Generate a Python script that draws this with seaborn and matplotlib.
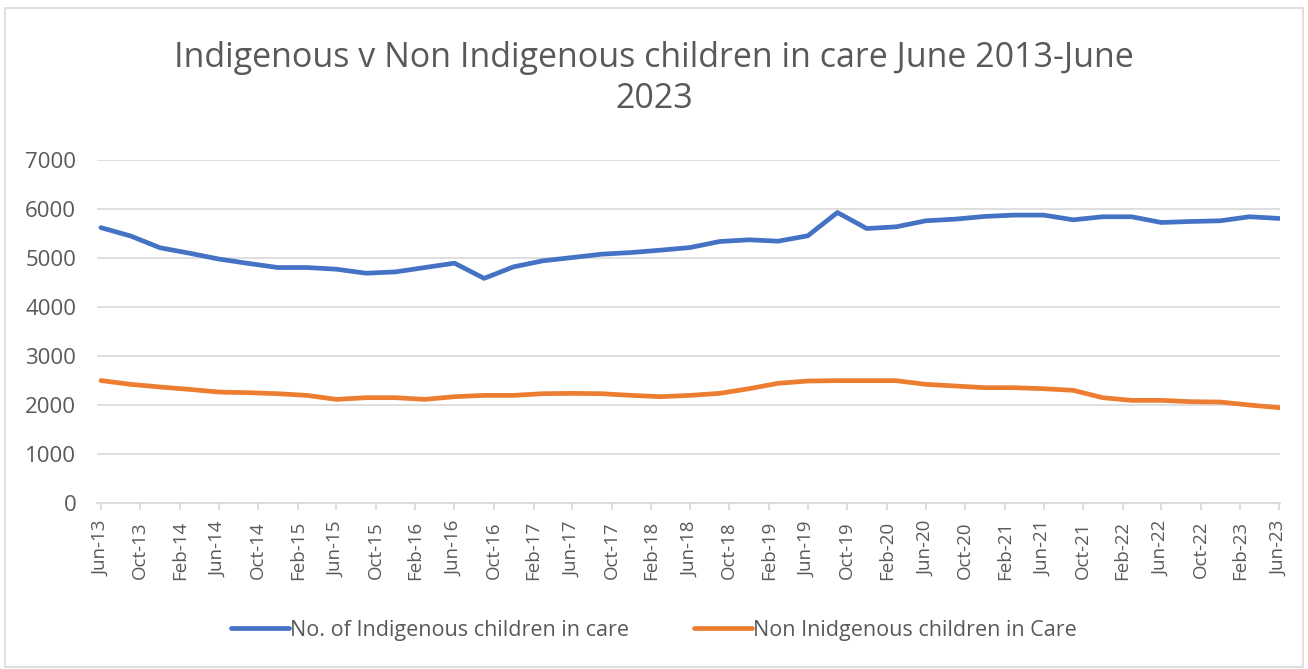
import matplotlib
matplotlib.use("Agg")
import matplotlib.pyplot as plt
import pandas as pd
import seaborn as sns

# Quarterly counts, June 2013 to June 2023
quarters = pd.date_range("2013-06-01", "2023-06-01", freq="3MS")

indigenous = [
    5620, 5450, 5210, 5100, 4980, 4890, 4806, 4806, 4772, 4690,
    4717, 4806, 4895, 4585, 4820, 4942, 5010, 5079, 5112, 5160,
    5214, 5337, 5372, 5344, 5453, 5929, 5602, 5637, 5760, 5794,
    5849, 5876, 5876, 5780, 5842, 5842, 5725, 5746, 5760, 5842,
    5808,
]

non_indigenous = [
    2500, 2422, 2368, 2320, 2265, 2252, 2231, 2197, 2115, 2150,
    2150, 2115, 2170, 2197, 2197, 2231, 2238, 2231, 2197, 2170,
    2197, 2238, 2333, 2443, 2490, 2497, 2497, 2497, 2422, 2388,
    2354, 2354, 2333, 2300, 2150, 2095, 2095, 2068, 2061, 2000,
    1946,
]

series_names = ["No. of Indigenous children in care",
                "Non Inidgenous children in Care"]
series_colors = ["#4472C4", "#ED7D31"]

title_text = "Indigenous v Non Indigenous children in care June 2013-June\n2023"

tick_dates = pd.date_range("2013-06-01", "2023-06-01", freq="4MS")
tick_labels = [d.strftime("%b-%y") for d in tick_dates]

df = pd.DataFrame({
    "date": list(quarters) * 2,
    "count": indigenous + non_indigenous,
    "series": [series_names[0]] * len(quarters) + [series_names[1]] * len(quarters),
})

sns.set_theme(style="white")
plt.rcParams["font.family"] = ["Open Sans", "DejaVu Sans"]

text_gray = "#595959"
grid_gray = "#D9D9D9"

fig = plt.figure(figsize=(13.08, 6.69), dpi=100)
ax = fig.add_axes([0.0742, 0.2481, 0.9044, 0.5127])

sns.lineplot(
    data=df, x="date", y="count", hue="series",
    palette=dict(zip(series_names, series_colors)),
    linewidth=3.4, ax=ax, legend=True,
)

ax.set_ylim(0, 7000)
ax.set_yticks(range(0, 7001, 1000))
ax.set_xlim(quarters[0] - pd.Timedelta(days=12), quarters[-1] + pd.Timedelta(days=3))
ax.set_xticks(tick_dates)
ax.set_xticklabels(tick_labels, rotation=90)
ax.grid(axis="y", color=grid_gray, linewidth=1.2)
ax.set_axisbelow(True)
ax.set_xlabel("")
ax.set_ylabel("")

for side in ["top", "right", "left"]:
    ax.spines[side].set_visible(False)
ax.spines["bottom"].set_color(grid_gray)
ax.spines["bottom"].set_linewidth(1.2)

ax.tick_params(axis="x", which="major", bottom=True, length=5, color=grid_gray,
               labelcolor=text_gray, labelsize=13.5, pad=8)
ax.tick_params(axis="y", left=False, labelcolor=text_gray, labelsize=16, pad=9)

handles, labels = ax.get_legend_handles_labels()
ax.legend(handles, labels, loc="center", bbox_to_anchor=(0.5, 0.058),
          bbox_transform=fig.transFigure, ncol=2, frameon=False,
          fontsize=15.5, labelcolor=text_gray, handlelength=2.7,
          handletextpad=0.05, columnspacing=3.0)

fig.text(0.5, 0.883, title_text, ha="center", va="center", fontsize=24.5,
         color=text_gray, linespacing=1.28)

# Light frame around the whole chart area
frame = plt.Rectangle((5 / 1308, 2 / 669), 1298 / 1308, 659 / 669,
                      transform=fig.transFigure, fill=False,
                      edgecolor="#D9D9D9", linewidth=1.2)
fig.patches.append(frame)

fig.savefig("out.png", dpi=100, facecolor="white")
